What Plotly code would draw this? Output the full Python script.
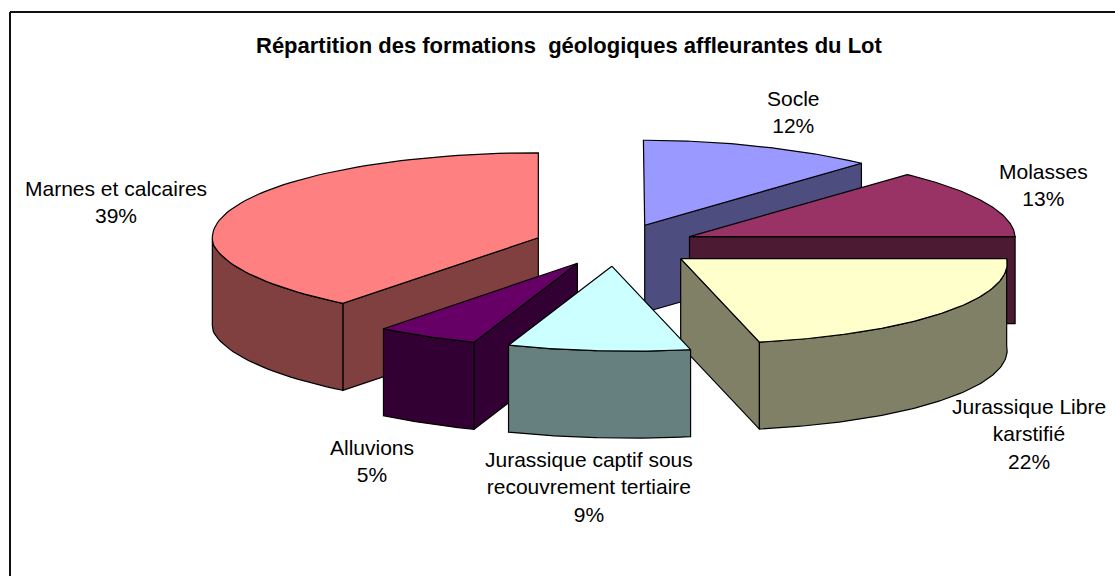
import numpy as np
import plotly.graph_objects as go

labels = ["Socle", "Molasses", "Jurassique Libre<br>karstifié", "Jurassique captif sous<br>recouvrement tertiaire", "Alluvions", "Marnes et calcaires"]
values = [12, 13, 22, 9, 5, 39]
tops = ["#9999FF", "#993366", "#FFFFCC", "#CCFFFF", "#660066", "#FF8080"]
sides = ["#4D4D80", "#4D1A33", "#808066", "#668080", "#330033", "#804040"]
title = "Répartition des formations  géologiques affleurantes du Lot"

# label anchor centres in page pixels
label_xy = [(793, 112), (1043, 185), (1029, 434), (589, 487), (372, 461), (116, 202)]
paint_order = [0, 1, 2, 5, 4, 3]

CX, CY, RX, RY, DEPTH, EXPLODE = 615, 245, 326, 85, 87, 0.25
SW = 1.2


def project(X, Y):
    X, Y = np.asarray(X, float), np.asarray(Y, float)
    shift = np.where(Y < 0, -18 * Y, -7 * Y * np.clip(X / 0.5, 0, 1))
    return CX + RX * X + shift, CY - RY * Y


fig = go.Figure()


def poly(xs, ys, color):
    xs = np.append(xs, xs[0]); ys = np.append(ys, ys[0])
    fig.add_trace(go.Scatter(x=xs, y=ys, mode="lines", fill="toself", fillcolor=color,
                             line=dict(color="black", width=SW), hoverinfo="skip", showlegend=False))


def wall(px, py, color):
    poly(np.concatenate([px, px[::-1]]), np.concatenate([py, py[::-1] + DEPTH]), color)


edges = np.concatenate([[0], np.cumsum(values)]) / sum(values) * 2 * np.pi
for i in paint_order:
    a, b = edges[i], edges[i + 1]
    m = (a + b) / 2
    ox, oy = EXPLODE * np.sin(m), EXPLODE * np.cos(m)
    t = np.linspace(a, b, 80)
    ax, ay = project([ox], [oy])
    rx, ry = project(ox + np.sin(t), oy + np.cos(t))
    # radial faces turned towards the viewer
    if np.sin(a) < -1e-9:
        wall(np.array([ax[0], rx[0]]), np.array([ay[0], ry[0]]), sides[i])
    if np.sin(b) > 1e-9:
        wall(np.array([ax[0], rx[-1]]), np.array([ay[0], ry[-1]]), sides[i])
    # outer rim where it faces the viewer
    vis = (t >= np.pi / 2) & (t <= 3 * np.pi / 2)
    if vis.sum() > 1:
        wall(rx[vis], ry[vis], sides[i])
    poly(np.concatenate([ax, rx]), np.concatenate([ay, ry]), tops[i])

annotations = [dict(x=569, y=45, text=f"<b>{title}</b>", showarrow=False,
                    font=dict(family="Liberation Sans", size=22, color="black"))]
for lab, v, (x, y) in zip(labels, values, label_xy):
    annotations.append(dict(x=x, y=y, text=f"{lab}<br>{v}%", showarrow=False, align="center",
                            font=dict(family="Liberation Sans", size=21, color="black")))

fig.update_layout(
    width=1115, height=576, margin=dict(l=0, r=0, t=0, b=0),
    paper_bgcolor="white", plot_bgcolor="white", showlegend=False,
    xaxis=dict(range=[0, 1115], visible=False, fixedrange=True),
    yaxis=dict(range=[576, 0], visible=False, fixedrange=True),
    annotations=annotations,
    shapes=[
        dict(type="line", x0=10, x1=10, y0=12, y1=576, xref="x", yref="y", line=dict(color="#111", width=2)),
        dict(type="line", x0=10, x1=1115, y0=12, y1=12, xref="x", yref="y", line=dict(color="#111", width=2)),
    ],
)
fig.write_html("out.html", config=dict(displayModeBar=False),
               post_script="document.body.style.margin='0';document.body.style.overflow='hidden';")
